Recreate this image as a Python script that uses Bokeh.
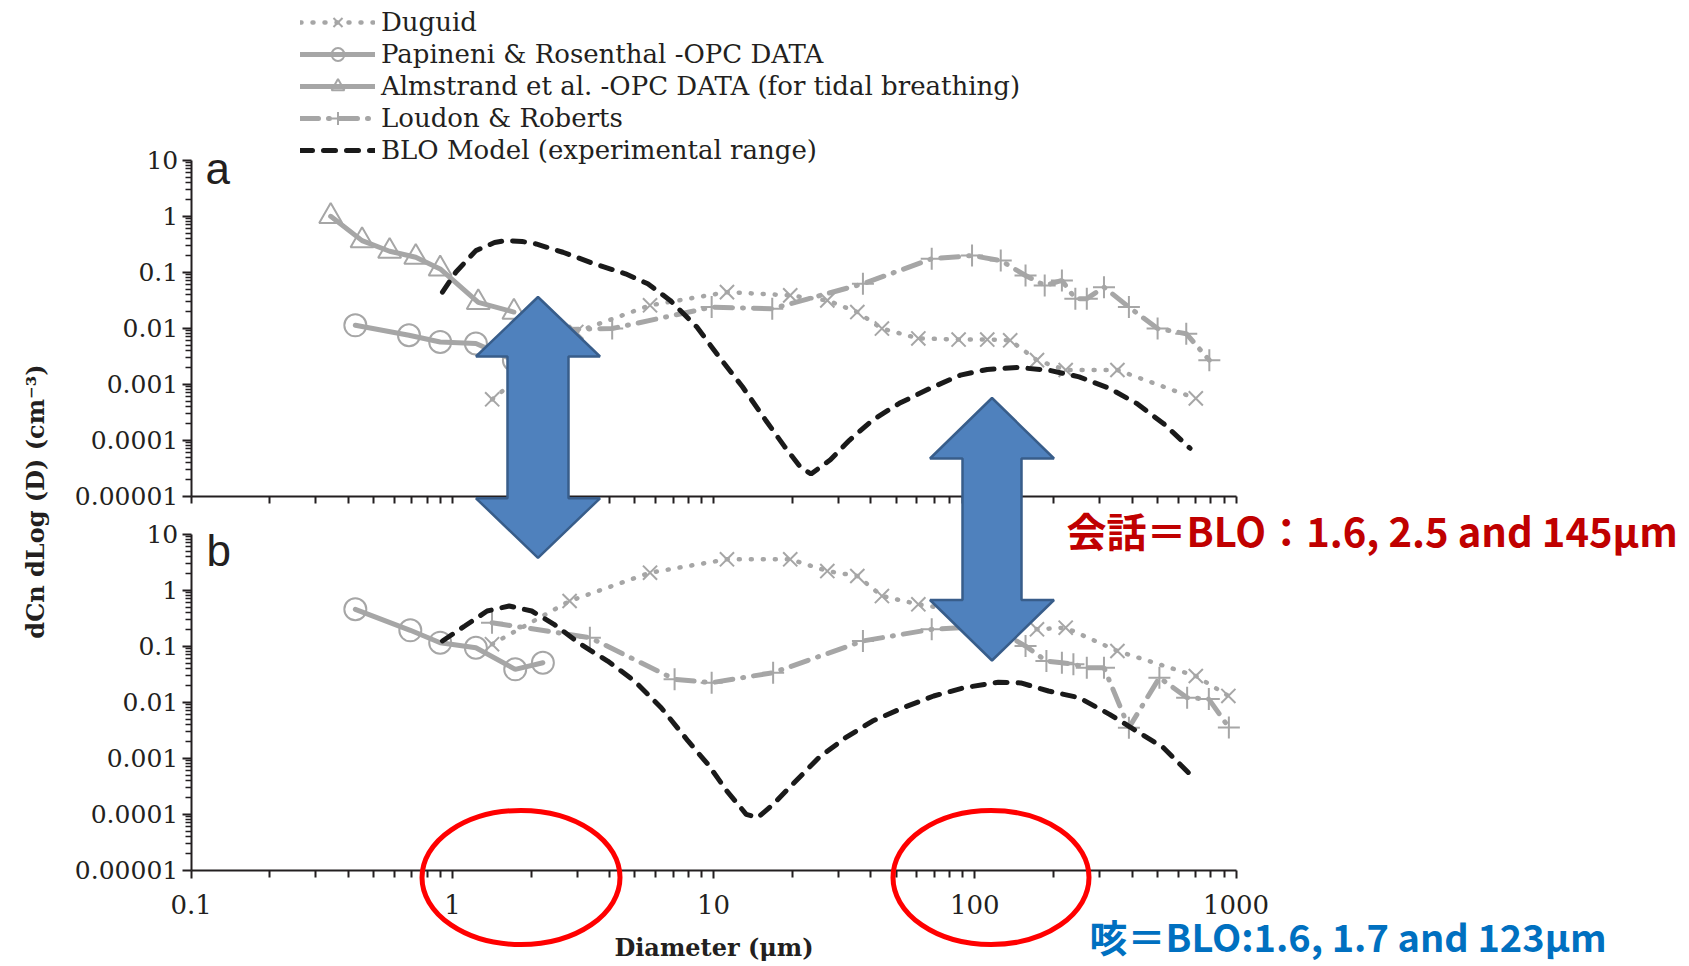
import math

from bokeh.embed import file_html
from bokeh.models import (CustomJSTickFormatter, FixedTicker, Label, Legend,
                          LegendItem, LogAxis, LogScale, Range1d)
from bokeh.plotting import figure
from bokeh.resources import INLINE

# ---------------------------------------------------------------- data
diam_ticks = [0.1, 1, 10, 100, 1000]
conc_ticks = [1e-5, 1e-4, 1e-3, 1e-2, 1e-1, 1, 10]

# (a) speaking
a_duguid_d = [1.42, 2.98, 5.71, 11.25, 19.65, 27.25, 35.5, 44.1, 60.8, 86.7,
              111.6, 136.6, 173, 222.8, 351.6, 701.6]
a_duguid_v = [0.00054, 0.0086, 0.0257, 0.0443, 0.0387, 0.0315, 0.0195, 0.0099,
              0.0066, 0.0063, 0.0063, 0.0061, 0.0027, 0.0018, 0.0018, 0.00056]

a_papineni_d = [0.425, 0.682, 0.898, 1.23, 1.72]
a_papineni_v = [0.0113, 0.0075, 0.0057, 0.00535, 0.0027]

a_almstrand_d = [0.342, 0.451, 0.575, 0.724, 0.898, 1.256, 1.72]
a_almstrand_v = [1.0, 0.368, 0.238, 0.186, 0.115, 0.029, 0.0195]

a_loudon_d = [2.6, 4.09, 9.83, 16.77, 37.3, 68.4, 97.6, 125.7, 156.4, 185.2,
              215.5, 242.6, 268.4, 312.3, 389, 501, 645, 790.5]
a_loudon_v = [0.0095, 0.0099, 0.0239, 0.0224, 0.0624, 0.174, 0.199, 0.162,
              0.0877, 0.0582, 0.0715, 0.0338, 0.0338, 0.0543, 0.0239, 0.0099,
              0.008, 0.0027]

a_blo_d = [0.916, 1.03, 1.23, 1.45, 1.6, 1.85, 2.09, 2.65, 3.49, 4.6, 5.6, 6.82,
           8.63, 10.5, 12.9, 15.8, 18.7, 21.4, 23.6, 28.0, 33.1, 40.6, 51.4,
           67.3, 88.1, 111.6, 145, 191.4, 250.8, 328, 416, 527, 667]
a_blo_v = [0.0443, 0.1, 0.244, 0.34, 0.368, 0.355, 0.321, 0.228, 0.142, 0.094,
           0.0624, 0.0315, 0.01054, 0.00308, 0.000903, 0.000231, 7.7e-5, 3.4e-5,
           2.5e-5, 4.5e-5, 1.0e-4, 2.3e-4, 4.57e-4, 8.45e-4, 1.46e-3, 1.84e-3,
           2.0e-3, 1.79e-3, 1.36e-3, 8.45e-4, 4.57e-4, 2.0e-4, 7.2e-5]

# (b) coughing
b_duguid_d = [1.418, 2.81, 5.71, 11.25, 19.65, 27.25, 35.5, 44.1, 60.8, 86.7,
              111.6, 136.6, 173, 222.8, 351.6, 701.6, 935]
b_duguid_v = [0.109, 0.644, 2.06, 3.58, 3.58, 2.21, 1.80, 0.79, 0.562, 0.43,
              0.39, 0.35, 0.201, 0.215, 0.0824, 0.0295, 0.013]

b_papineni_d = [0.425, 0.69, 0.898, 1.23, 1.74, 2.22]
b_papineni_v = [0.458, 0.193, 0.116, 0.0944, 0.0388, 0.0509]

b_loudon_d = [1.418, 3.36, 7.09, 9.83, 16.9, 37.3, 68.4, 97.6, 125.7, 156.4,
              188, 215.5, 238.5, 268.4, 312.3, 389, 509, 650, 787, 939]
b_loudon_v = [0.264, 0.1426, 0.0258, 0.0224, 0.0338, 0.1245, 0.201, 0.22, 0.18,
              0.101, 0.0546, 0.0509, 0.0477, 0.0415, 0.0415, 0.00352, 0.0275,
              0.0121, 0.0114, 0.00355]

b_blo_d = [0.916, 1.115, 1.358, 1.65, 2.012, 2.449, 3.1, 3.93, 4.98, 6.3, 7.98,
           9.51, 11.25, 13.33, 14.75, 16.9, 20.65, 25.3, 32.0, 40.6, 53.2, 69.6,
           91.2, 123, 150, 191.4, 250.8, 328, 416, 527, 667]
b_blo_v = [0.1245, 0.23, 0.427, 0.525, 0.427, 0.247, 0.1086, 0.0546, 0.024,
           0.00801, 0.00204, 0.000781, 0.00026, 1.0e-4, 8.7e-5, 1.51e-4, 3.94e-4,
           1.03e-3, 2.33e-3, 4.63e-3, 8.0e-3, 0.01296, 0.01824, 0.0228, 0.0222,
           0.0159, 0.0121, 0.0061, 0.00307, 0.00155, 5.2e-4]

series_names = ["Duguid", "Papineni & Rosenthal -OPC DATA",
                "Almstrand et al. -OPC DATA (for tidal breathing)",
                "Loudon & Roberts", "BLO Model (experimental range)"]
speaking_note = "会話＝BLO：1.6, 2.5 and 145μm"
cough_note = "咳＝BLO:1.6, 1.7 and 123μm"

# ---------------------------------------------------------------- layout
W, H = 1689, 966
X0, XDEC = 190.7, 261.2          # pixel of 0.1 µm, pixels per decade
YA_TOP, YB_TOP, YDEC = 159.8, 533.8, 56.0   # pixel of 10 in each panel

GRAY = "#a6a6a6"
INK = "#231f20"
SERIF = "DejaVu Serif"

p = figure(width=W, height=H, output_backend="svg", toolbar_location=None,
           x_axis_type=None, y_axis_type=None, title=None,
           x_range=Range1d(0, W), y_range=Range1d(H, 0), min_border=0,
           outline_line_color=None, background_fill_color="white",
           border_fill_color="white")

p.extra_x_ranges = {"diam": Range1d(10 ** (-1 - X0 / XDEC),
                                    10 ** (-1 + (W - X0) / XDEC))}
p.extra_x_scales = {"diam": LogScale()}
p.extra_y_ranges = {
    "ya": Range1d(10 ** (1 - (H - YA_TOP) / YDEC), 10 ** (1 + YA_TOP / YDEC)),
    "yb": Range1d(10 ** (1 - (H - YB_TOP) / YDEC), 10 ** (1 + YB_TOP / YDEC)),
}
p.extra_y_scales = {"ya": LogScale(), "yb": LogScale()}

fmt = CustomJSTickFormatter(code="""
    if (tick >= 1) { return tick.toFixed(0); }
    return tick.toFixed(Math.round(-Math.log10(tick)));
""")


def minors(majors):
    return [m * k for m in majors[:-1] for k in range(2, 10)]


def style_axis(ax):
    ax.axis_line_color = INK
    ax.axis_line_width = 2
    ax.major_tick_line_color = INK
    ax.major_tick_line_width = 2
    ax.minor_tick_line_color = INK
    ax.minor_tick_line_width = 1.5
    ax.major_tick_in = 0
    ax.minor_tick_in = 0
    ax.major_label_text_font = SERIF
    ax.major_label_text_color = INK


for rng in ("ya", "yb"):
    yax = LogAxis(x_range_name="diam", y_range_name=rng, fixed_location=0.1,
                  bounds=(1e-5, 10), formatter=fmt,
                  ticker=FixedTicker(ticks=conc_ticks,
                                     minor_ticks=minors(conc_ticks)))
    style_axis(yax)
    yax.major_tick_out = 9
    yax.minor_tick_out = 6
    yax.major_label_text_font_size = "25px"
    yax.major_label_standoff = 4
    p.add_layout(yax, "left")

# upper panel: tick marks only, every decade and sub-decade mark the same
xa = LogAxis(x_range_name="diam", y_range_name="ya", fixed_location=1e-5,
             bounds=(0.1, 1000),
             ticker=FixedTicker(ticks=[], minor_ticks=diam_ticks + minors(diam_ticks)))
style_axis(xa)
xa.minor_tick_out = 7
xa.minor_tick_line_width = 2
p.add_layout(xa, "below")

# lower panel: labelled diameter axis
xb = LogAxis(x_range_name="diam", y_range_name="yb", fixed_location=1e-5,
             bounds=(0.1, 1000), formatter=fmt,
             ticker=FixedTicker(ticks=diam_ticks, minor_ticks=minors(diam_ticks)))
style_axis(xb)
xb.major_tick_out = 8
xb.minor_tick_out = 7
xb.minor_tick_line_width = 2
xb.major_label_text_font_size = "26px"
xb.major_label_standoff = 17
xb.axis_label = "Diameter (μm)"
xb.axis_label_text_font = SERIF
xb.axis_label_text_font_style = "bold"
xb.axis_label_text_font_size = "24px"
xb.axis_label_text_color = INK
xb.axis_label_standoff = 15
p.add_layout(xb, "below")

# ---------------------------------------------------------------- series
line_styles = {
    "duguid": dict(line_dash="1 11", line_width=4.5, line_cap="round", line_color=GRAY),
    "papineni": dict(line_width=5, line_color=GRAY, line_cap="round"),
    "almstrand": dict(line_width=5, line_color=GRAY, line_cap="round"),
    "loudon": dict(line_dash="18 10 1 10", line_width=5, line_cap="round", line_color=GRAY),
    "blo": dict(line_dash="12 11", line_width=5, line_cap="round", line_color="#1a1a1a"),
}
marker_styles = {
    "duguid": dict(marker="x", size=20, line_width=2),
    "papineni": dict(marker="circle", size=22, line_width=2),
    "almstrand": dict(marker="triangle", size=23, line_width=2),
    "loudon": dict(marker="cross", size=22, line_width=2),
}

panels = {
    "ya": [("duguid", a_duguid_d, a_duguid_v),
           ("papineni", a_papineni_d, a_papineni_v),
           ("almstrand", a_almstrand_d, a_almstrand_v),
           ("loudon", a_loudon_d, a_loudon_v),
           ("blo", a_blo_d, a_blo_v)],
    "yb": [("duguid", b_duguid_d, b_duguid_v),
           ("papineni", b_papineni_d, b_papineni_v),
           ("loudon", b_loudon_d, b_loudon_v),
           ("blo", b_blo_d, b_blo_v)],
}

legend_parts = {}
for rng, series in panels.items():
    for key, d, v in series:
        rl = p.line(d, v, x_range_name="diam", y_range_name=rng, **line_styles[key])
        parts = [rl]
        if key in marker_styles:
            rm = p.scatter(d, v, x_range_name="diam", y_range_name=rng,
                           line_color=GRAY, fill_alpha=0, **marker_styles[key])
            parts.append(rm)
        legend_parts.setdefault(key, parts)

order = ["duguid", "papineni", "almstrand", "loudon", "blo"]
legend = Legend(
    items=[LegendItem(label=series_names[i], renderers=legend_parts[k])
           for i, k in enumerate(order)],
    location=(300, H - 165.5), orientation="vertical",
    glyph_width=75, glyph_height=32, label_height=32, spacing=0,
    padding=0, margin=0, label_standoff=6,
    label_text_font=SERIF, label_text_font_size="26px", label_text_color=INK,
    border_line_color=None, background_fill_alpha=0,
)
p.add_layout(legend)

# ---------------------------------------------------------------- overlays
def double_arrow(cx, top, bottom, head_len, head_half, shaft_half):
    xs = [cx, cx + head_half, cx + shaft_half, cx + shaft_half, cx + head_half,
          cx, cx - head_half, cx - shaft_half, cx - shaft_half, cx - head_half]
    ys = [top, top + head_len, top + head_len, bottom - head_len,
          bottom - head_len, bottom, bottom - head_len, bottom - head_len,
          top + head_len, top + head_len]
    return xs, ys


arrows = [double_arrow(537.5, 296.5, 557.3, 59.5, 62, 30.5),
          double_arrow(991.5, 397.5, 660.0, 60.5, 62, 29.5)]
p.patches([a[0] for a in arrows], [a[1] for a in arrows],
          fill_color="#4f81bd", line_color="#385d8a", line_width=2.5,
          level="overlay")

p.ellipse(x=[520.5, 990.5], y=[877, 877], width=[198, 196], height=[134, 134],
          fill_alpha=0, line_color="#ff0000", line_width=5, level="overlay")

for txt, x, y in (("a", 205, 168.3), ("b", 206, 550)):
    p.add_layout(Label(x=x, y=y, text=txt, text_font="Liberation Sans",
                       text_font_size="44px", text_color=INK,
                       text_baseline="alphabetic", text_align="left"))

p.add_layout(Label(x=34.5, y=501, text="dCn dLog (D) (cm⁻³)", angle=math.pi / 2,
                   text_font=SERIF, text_font_style="bold",
                   text_font_size="24px", text_color=INK,
                   text_align="center", text_baseline="middle"))

p.add_layout(Label(x=1066, y=529, text=speaking_note,
                   text_font="Noto Sans CJK JP", text_font_style="bold",
                   text_font_size="40px", text_color="#c00000",
                   text_baseline="alphabetic", text_align="left"))
p.add_layout(Label(x=1089, y=935, text=cough_note,
                   text_font="Noto Sans CJK JP", text_font_style="bold",
                   text_font_size="38px", text_color="#0070c0",
                   text_baseline="alphabetic", text_align="left"))

open("out.html", "w").write(file_html(p, INLINE))
